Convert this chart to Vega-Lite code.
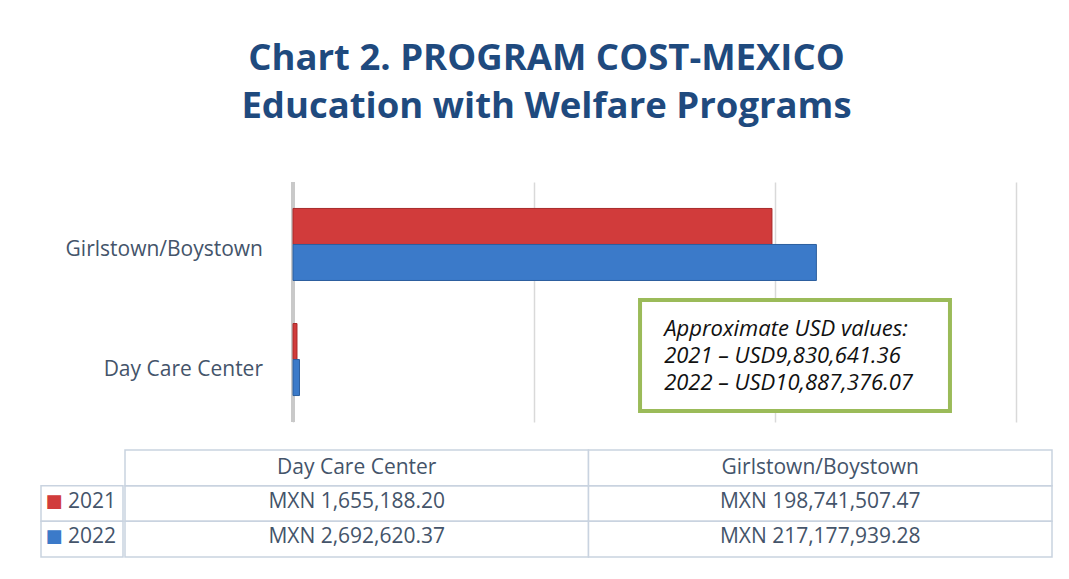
{
  "$schema": "https://vega.github.io/schema/vega-lite/v6.json",
  "background": "white",
  "padding": {"left": 40, "top": 40, "right": 10, "bottom": 10},
  "datasets": {
    "costs": [
      {"program": "Day Care Center", "year": "2021", "value": 1655188.20},
      {"program": "Day Care Center", "year": "2022", "value": 2692620.37},
      {"program": "Girlstown/Boystown", "year": "2021", "value": 198741507.47},
      {"program": "Girlstown/Boystown", "year": "2022", "value": 217177939.28}
    ]
  },
  "title": {
    "text": ["Chart 2. PROGRAM COST-MEXICO", "Education with Welfare Programs"],
    "font": "Open Sans",
    "fontSize": 36.5,
    "fontWeight": "bold",
    "color": "#1F4A7E",
    "lineHeight": 48,
    "anchor": "middle",
    "baseline": "bottom",
    "offset": 18
  },
  "config": {
    "view": {"stroke": null},
    "font": "Open Sans",
    "text": {"font": "Open Sans"}
  },
  "spacing": 25,
  "vconcat": [
    {
      "spacing": 28,
      "hconcat": [
        {
          "width": 222,
          "height": 240,
          "data": {"name": "costs"},
          "transform": [{"filter": "datum.year === '2021'"}],
          "mark": {"type": "text", "align": "right", "baseline": "middle", "fontSize": 21, "color": "#44546A", "dy": 8},
          "encoding": {
            "y": {"field": "program", "type": "nominal", "scale": {"domain": ["Girlstown/Boystown", "Day Care Center"], "paddingInner": 0.374, "paddingOuter": 0.23}, "axis": null},
            "x": {"datum": 1, "type": "quantitative", "scale": {"domain": [0, 1]}, "axis": null},
            "text": {"field": "program"}
          }
        },
        {
          "width": 723,
          "height": 240,
          "data": {"name": "costs"},
          "layer": [
            {
              "mark": {"type": "rule", "color": "#c9c9c9", "strokeWidth": 4},
              "encoding": {
                "x": {"datum": 0, "type": "quantitative", "title": null, "axis": {"values": [0, 100000000, 200000000, 300000000], "labels": false, "ticks": false, "domain": false, "grid": true, "gridColor": "#d9d9d9", "gridWidth": 1.5, "title": null}}
              }
            },
            {
              "mark": {"type": "bar", "strokeWidth": 1},
              "encoding": {
                "y": {"field": "program", "type": "nominal", "scale": {"domain": ["Girlstown/Boystown", "Day Care Center"], "paddingInner": 0.374, "paddingOuter": 0.23}, "axis": null},
                "yOffset": {"field": "year", "type": "nominal", "scale": {"domain": ["2021", "2022"], "paddingInner": 0, "paddingOuter": 0}},
                "x": {"field": "value", "type": "quantitative", "title": null, "scale": {"domain": [0, 300000000], "nice": false}, "axis": {"values": [0, 100000000, 200000000, 300000000], "labels": false, "ticks": false, "domain": false, "grid": true, "gridColor": "#d9d9d9", "gridWidth": 1.5, "title": null}},
                "color": {"field": "year", "type": "nominal", "scale": {"domain": ["2021", "2022"], "range": ["#D13B3B", "#3B7AC9"]}, "legend": null},
                "stroke": {"field": "year", "type": "nominal", "scale": {"domain": ["2021", "2022"], "range": ["#A82A2A", "#2C5F9E"]}, "legend": null}
              }
            },
            {
              "data": {"values": [{"note": "usd"}]},
              "mark": {"type": "rect", "fill": "white", "stroke": "#9BBB59", "strokeWidth": 4},
              "encoding": {
                "x": {"datum": 144000000, "type": "quantitative"},
                "x2": {"datum": 272600000},
                "y": {"datum": 0.508, "type": "quantitative", "scale": {"domain": [0, 1]}, "axis": null},
                "y2": {"datum": 0.046}
              }
            },
            {
              "data": {"values": [{"note": "usd"}]},
              "mark": {"type": "text", "align": "left", "baseline": "alphabetic", "fontStyle": "italic", "fontSize": 22, "lineHeight": 27, "color": "#111111"},
              "encoding": {
                "x": {"datum": 154000000, "type": "quantitative"},
                "y": {"datum": 0.36, "type": "quantitative", "scale": {"domain": [0, 1]}, "axis": null},
                "text": {"value": ["Approximate USD values:", "2021 – USD9,830,641.36", "2022 – USD10,887,376.07"]}
              }
            }
          ],
          "resolve": {"scale": {"y": "independent"}}
        }
      ]
    },
    {
      "spacing": 0,
      "hconcat": [
        {
          "width": 82,
          "height": 107,
          "data": {"name": "costs"},
          "transform": [{"filter": "datum.program === 'Day Care Center'"}],
          "encoding": {
            "y": {"field": "year", "type": "nominal", "scale": {"domain": ["hdr", "2021", "2022"], "paddingInner": 0, "paddingOuter": 0}, "axis": null}
          },
          "layer": [
            {"mark": {"type": "rect", "fill": "white", "stroke": "#C9D3E0", "strokeWidth": 1.5}},
            {
              "mark": {"type": "text", "text": "■", "font": "DejaVu Sans", "fontSize": 18, "dx": -28, "dy": -2, "baseline": "middle"},
              "encoding": {"color": {"field": "year", "type": "nominal", "scale": {"domain": ["2021", "2022"], "range": ["#C23333", "#3B7AC9"]}, "legend": null}}
            },
            {
              "mark": {"type": "text", "fontSize": 21, "color": "#44546A", "dx": 10, "dy": -2, "baseline": "middle"},
              "encoding": {"text": {"field": "year"}}
            }
          ]
        },
        {
          "width": 927,
          "height": 107,
          "data": {"name": "costs"},
          "transform": [
            {"calculate": "datum.year", "as": "row"},
            {"calculate": "'MXN ' + format(datum.value, ',.2f')", "as": "label"}
          ],
          "encoding": {
            "x": {"field": "program", "type": "nominal", "scale": {"domain": ["Day Care Center", "Girlstown/Boystown"], "paddingInner": 0, "paddingOuter": 0}, "axis": null},
            "y": {"field": "row", "type": "nominal", "scale": {"domain": ["hdr", "2021", "2022"], "paddingInner": 0, "paddingOuter": 0}, "axis": null}
          },
          "layer": [
            {"mark": {"type": "rect", "fill": "white", "stroke": "#C9D3E0", "strokeWidth": 1.5}},
            {
              "mark": {"type": "text", "fontSize": 21, "color": "#44546A", "baseline": "middle", "dy": -2},
              "encoding": {"text": {"field": "label"}}
            },
            {
              "transform": [{"filter": "datum.year === '2021'"}, {"calculate": "'hdr'", "as": "row"}],
              "layer": [
                {"mark": {"type": "rect", "fill": "white", "stroke": "#C9D3E0", "strokeWidth": 1.5}},
                {
                  "mark": {"type": "text", "fontSize": 21, "color": "#44546A", "baseline": "middle"},
                  "encoding": {"text": {"field": "program"}}
                }
              ]
            }
          ]
        }
      ]
    }
  ]
}
